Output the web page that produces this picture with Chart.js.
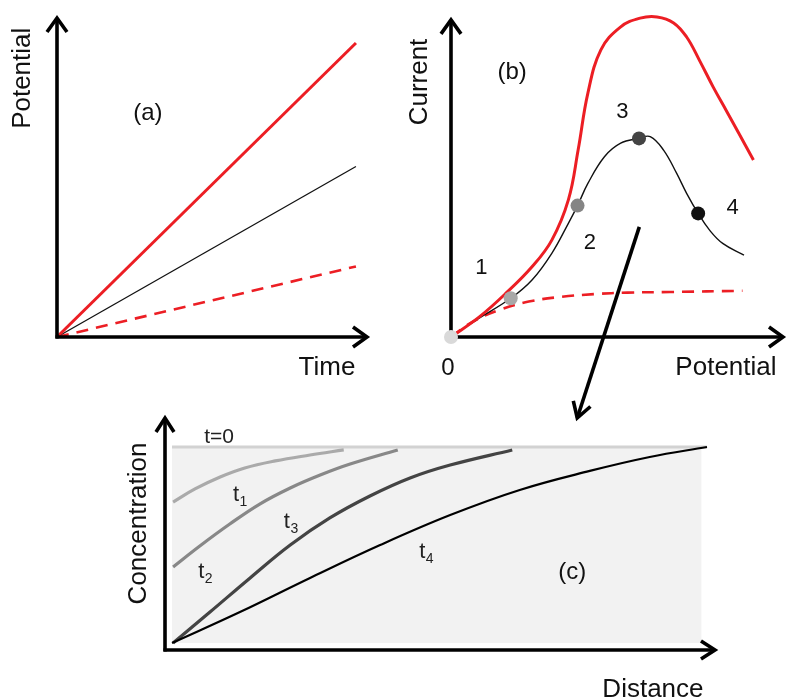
<!DOCTYPE html>
<html><head><meta charset="utf-8">
<script src="https://cdn.jsdelivr.net/npm/chart.js@4.4.1/dist/chart.umd.min.js"></script>
<style>
html,body{margin:0;padding:0;background:#fff;}
#wrap{position:relative;width:790px;height:700px;overflow:hidden;}
canvas{position:absolute;left:0;top:0;}
</style></head><body>
<div id="wrap">
<canvas id="cA" width="790" height="700"></canvas>
<canvas id="cC" width="790" height="700"></canvas>
<canvas id="cB" width="790" height="700"></canvas>
</div>
<script>
// ---------- Panel (a): Potential vs Time ----------
const timeA = [0, 10];
const potRedA = [0, 10];
const potBlackA = [0, 5.8];
const potDashA = [0, 2.4];

// ---------- Panel (b): Current vs Potential ----------
const potRedB = [0, 0.97, 1.86, 2.74, 3.41, 3.97, 4.30, 4.63, 5.07, 5.73, 6.40, 6.97, 7.53, 7.97, 8.40, 8.87, 9.30, 9.73, 10.23];
const curRedB = [0, 0.68, 1.46, 2.34, 3.23, 4.57, 6.23, 8.13, 9.57, 10.33, 10.63, 10.67, 10.47, 10.00, 9.23, 8.33, 7.57, 6.80, 5.90];
const potBlackB = [0, 0.86, 2.02, 2.74, 3.41, 3.97, 4.28, 4.63, 5.19, 5.74, 6.36, 6.74, 7.19, 7.63, 7.97, 8.36, 8.74, 9.19, 9.91];
const curBlackB = [0, 0.57, 1.29, 1.90, 2.79, 3.79, 4.38, 5.12, 6.01, 6.46, 6.62, 6.68, 6.23, 5.46, 4.79, 4.12, 3.57, 3.12, 2.73];
const potDashB = [0, 0.74, 1.63, 2.63, 3.74, 4.86, 5.97, 7.41, 9.86];
const curDashB = [0, 0.51, 0.90, 1.18, 1.34, 1.43, 1.48, 1.50, 1.54];
const potDotsB = [0, 2.02, 4.28, 6.36, 8.36];
const curDotsB = [0, 1.29, 4.38, 6.62, 4.12];
const dotLabelsB = ['', '1', '2', '3', '4'];

// ---------- Panel (c): Concentration vs Distance ----------
const distT0 = [0, 10];
const concT0 = [1, 1];
const distT1 = [0.02, 0.43, 0.90, 1.36, 1.93, 2.58, 3.21];
const concT1 = [0.719, 0.786, 0.847, 0.893, 0.929, 0.959, 0.985];
const distT2 = [0.02, 0.52, 1.08, 1.64, 2.21, 2.77, 3.33, 4.22];
const concT2 = [0.388, 0.495, 0.607, 0.709, 0.791, 0.857, 0.913, 0.985];
const distT3 = [0.02, 0.71, 1.46, 2.21, 2.95, 3.70, 4.45, 5.20, 6.36];
const concT3 = [0, 0.158, 0.332, 0.50, 0.638, 0.75, 0.842, 0.908, 0.985];
const distT4 = [0, 1.27, 2.58, 3.89, 5.20, 6.50, 7.81, 8.93, 10];
const concT4 = [0, 0.158, 0.332, 0.50, 0.653, 0.781, 0.878, 0.949, 1.0];
const distBg = [0, 9.9];
const concBg = [1, 1];

const pts = (xs, ys) => xs.map((x, i) => ({x: x, y: ys[i]}));

const FONT = '"Liberation Sans", Arial, Helvetica, sans-serif';
const RED = 'rgb(236,30,36)';
const TENSION = 0.4;

function arrowLine(ctx, x1, y1, x2, y2, head, half, lw) {
  ctx.save();
  ctx.strokeStyle = '#000';
  ctx.lineWidth = lw;
  ctx.lineCap = 'butt';
  ctx.lineJoin = 'miter';
  ctx.beginPath();
  ctx.moveTo(x1, y1);
  ctx.lineTo(x2, y2);
  ctx.stroke();
  const a = Math.atan2(y2 - y1, x2 - x1);
  const c = Math.cos(a), s = Math.sin(a);
  const bx = x2 - head * c, by = y2 - head * s;
  ctx.beginPath();
  ctx.moveTo(bx - half * s, by + half * c);
  ctx.lineTo(x2, y2);
  ctx.lineTo(bx + half * s, by - half * c);
  ctx.stroke();
  ctx.restore();
}
function txt(ctx, t, x, y, size, rot, color) {
  ctx.save();
  ctx.fillStyle = color || '#111';
  ctx.font = size + 'px ' + FONT;
  ctx.textAlign = 'center';
  ctx.textBaseline = 'middle';
  ctx.translate(x, y);
  if (rot) ctx.rotate(rot);
  ctx.fillText(t, 0, 0);
  ctx.restore();
}
function tsub(ctx, sub, x, y) {
  ctx.save();
  ctx.fillStyle = '#222';
  ctx.textBaseline = 'alphabetic';
  ctx.textAlign = 'left';
  ctx.font = '14px ' + FONT;
  const w2 = ctx.measureText(sub).width;
  ctx.font = '22px ' + FONT;
  const w = ctx.measureText('t').width;
  const x0 = x - (w + w2) / 2;
  ctx.fillText('t', x0, y + 8);
  ctx.font = '14px ' + FONT;
  ctx.fillText(sub, x0 + w + 0.5, y + 13);
  ctx.restore();
}

const baseOpts = {
  responsive: false,
  animation: false,
  events: [],
  devicePixelRatio: 1,
  plugins: {legend: {display: false}, tooltip: {enabled: false}, title: {display: false}},
  elements: {point: {radius: 0}}
};

// ---- Chart (a)
new Chart(document.getElementById('cA'), {
  type: 'scatter',
  data: {datasets: [
    {data: pts(timeA, potRedA), showLine: true, borderColor: RED, borderWidth: 3, clip: false, order: 1},
    {data: pts(timeA, potBlackA), showLine: true, borderColor: '#111', borderWidth: 1.3, clip: false, order: 2},
    {data: pts(timeA, potDashA), showLine: true, borderColor: RED, borderWidth: 2.6, borderDash: [12, 8], clip: false, order: 3}
  ]},
  options: Object.assign({}, baseOpts, {
    layout: {padding: {left: 57, top: 18, right: 423, bottom: 363}},
    scales: {x: {type: 'linear', min: 0, max: 10.37, display: false}, y: {type: 'linear', min: 0, max: 10.85, display: false}}
  }),
  plugins: [{id: 'annA', afterDraw(chart) {
    const ctx = chart.ctx, xs = chart.scales.x, ys = chart.scales.y;
    const x0 = xs.getPixelForValue(0), y0 = ys.getPixelForValue(0);
    arrowLine(ctx, x0, y0 + 1.5, x0, ys.getPixelForValue(10.85), 14, 10, 3.6);
    arrowLine(ctx, x0 - 1.5, y0, xs.getPixelForValue(10.37), y0, 14, 10, 3.6);
    txt(ctx, 'Potential', x0 - 34, ys.getPixelForValue(8.8), 26, -Math.PI / 2);
    txt(ctx, 'Time', xs.getPixelForValue(9.03), y0 + 31, 26);
    txt(ctx, '(a)', xs.getPixelForValue(3.04), ys.getPixelForValue(7.62), 24);
  }}]
});

// ---- Chart (c)
new Chart(document.getElementById('cC'), {
  type: 'scatter',
  data: {datasets: [
    {data: pts(distT4, concT4), showLine: true, borderColor: '#000', borderWidth: 2.2, tension: TENSION, clip: false, order: 1},
    {data: pts(distT3, concT3), showLine: true, borderColor: '#444', borderWidth: 3.2, tension: TENSION, clip: false, order: 2},
    {data: pts(distT2, concT2), showLine: true, borderColor: '#888', borderWidth: 3.2, tension: TENSION, clip: false, order: 3},
    {data: pts(distT1, concT1), showLine: true, borderColor: '#aaa', borderWidth: 3.2, tension: TENSION, clip: false, order: 4},
    {data: pts(distT0, concT0), showLine: true, borderColor: '#d2d2d2', borderWidth: 3.2, clip: false, order: 5},
    {data: pts(distBg, concBg), showLine: true, borderWidth: 0, borderColor: 'rgba(0,0,0,0)', backgroundColor: '#f2f2f2', fill: 'origin', clip: false, order: 6}
  ]},
  options: Object.assign({}, baseOpts, {
    layout: {padding: {left: 165, top: 418, right: 75, bottom: 50}},
    scales: {x: {type: 'linear', min: -0.131, max: 10.15, display: false}, y: {type: 'linear', min: -0.0357, max: 1.148, display: false}}
  }),
  plugins: [{id: 'annC', afterDraw(chart) {
    const ctx = chart.ctx, xs = chart.scales.x, ys = chart.scales.y;
    const x0 = xs.getPixelForValue(-0.131), y0 = ys.getPixelForValue(-0.0357);
    arrowLine(ctx, x0, y0 + 1.5, x0, ys.getPixelForValue(1.148), 14, 9, 3.6);
    arrowLine(ctx, x0 - 1.5, y0, xs.getPixelForValue(10.15), y0, 14, 9, 3.6);
    txt(ctx, 'Concentration', x0 - 26, ys.getPixelForValue(0.61), 26, -Math.PI / 2);
    txt(ctx, 'Distance', xs.getPixelForValue(8.99), y0 + 40, 26);
    txt(ctx, 't=0', xs.getPixelForValue(0.88), ys.getPixelForValue(1.05), 21, 0, '#222');
    tsub(ctx, '1', xs.getPixelForValue(1.27), ys.getPixelForValue(0.765));
    tsub(ctx, '2', xs.getPixelForValue(0.62), ys.getPixelForValue(0.37));
    tsub(ctx, '3', xs.getPixelForValue(2.22), ys.getPixelForValue(0.63));
    tsub(ctx, '4', xs.getPixelForValue(4.75), ys.getPixelForValue(0.475));
    txt(ctx, '(c)', xs.getPixelForValue(7.48), ys.getPixelForValue(0.36), 24);
  }}]
});

// ---- Chart (b)
new Chart(document.getElementById('cB'), {
  type: 'scatter',
  data: {datasets: [
    {data: pts(potDotsB, curDotsB), showLine: false, pointRadius: 7, pointBorderWidth: 0,
     pointBackgroundColor: ['#d9d9d9', '#a8a8a8', '#858585', '#444444', '#111111'], clip: false, order: 0},
    {data: pts(potRedB, curRedB), showLine: true, borderColor: RED, borderWidth: 3, tension: TENSION, clip: false, order: 1},
    {data: pts(potBlackB, curBlackB), showLine: true, borderColor: '#111', borderWidth: 1.4, tension: TENSION, clip: false, order: 2},
    {data: pts(potDashB, curDashB), showLine: true, borderColor: RED, borderWidth: 2.6, borderDash: [12, 8], tension: TENSION, clip: false, order: 3}
  ]},
  options: Object.assign({}, baseOpts, {
    layout: {padding: {left: 451, top: 10, right: 2, bottom: 363}},
    scales: {x: {type: 'linear', min: 0, max: 11.23, display: false}, y: {type: 'linear', min: 0, max: 10.9, display: false}}
  }),
  plugins: [{id: 'annB', beforeDatasetsDraw(chart) {
    const ctx = chart.ctx, xs = chart.scales.x, ys = chart.scales.y;
    const x0 = xs.getPixelForValue(0), y0 = ys.getPixelForValue(0);
    arrowLine(ctx, x0, y0 + 1.5, x0, ys.getPixelForValue(10.57), 14, 10, 3.6);
    arrowLine(ctx, x0 - 1.5, y0, xs.getPixelForValue(11.23), y0, 14, 10, 3.6);
  }, afterDraw(chart) {
    const ctx = chart.ctx, xs = chart.scales.x, ys = chart.scales.y;
    const x0 = xs.getPixelForValue(0), y0 = ys.getPixelForValue(0);
    txt(ctx, 'Current', x0 - 31, ys.getPixelForValue(8.5), 26, -Math.PI / 2);
    txt(ctx, 'Potential', xs.getPixelForValue(9.3), y0 + 31, 26);
    txt(ctx, '0', x0 - 3, y0 + 31, 24);
    txt(ctx, '(b)', xs.getPixelForValue(2.07), ys.getPixelForValue(8.83), 24);
    txt(ctx, dotLabelsB[1], xs.getPixelForValue(1.03), ys.getPixelForValue(2.3), 22);
    txt(ctx, dotLabelsB[2], xs.getPixelForValue(4.7), ys.getPixelForValue(3.13), 22);
    txt(ctx, dotLabelsB[3], xs.getPixelForValue(5.8), ys.getPixelForValue(7.5), 22);
    txt(ctx, dotLabelsB[4], xs.getPixelForValue(9.53), ys.getPixelForValue(4.3), 22);
    // connector arrow from panel (b) down to panel (c)
    arrowLine(ctx, xs.getPixelForValue(6.37), ys.getPixelForValue(3.67), xs.getPixelForValue(4.27), ys.getPixelForValue(-2.7), 15, 9, 3.6);
  }}]
});
</script>
</body></html>
